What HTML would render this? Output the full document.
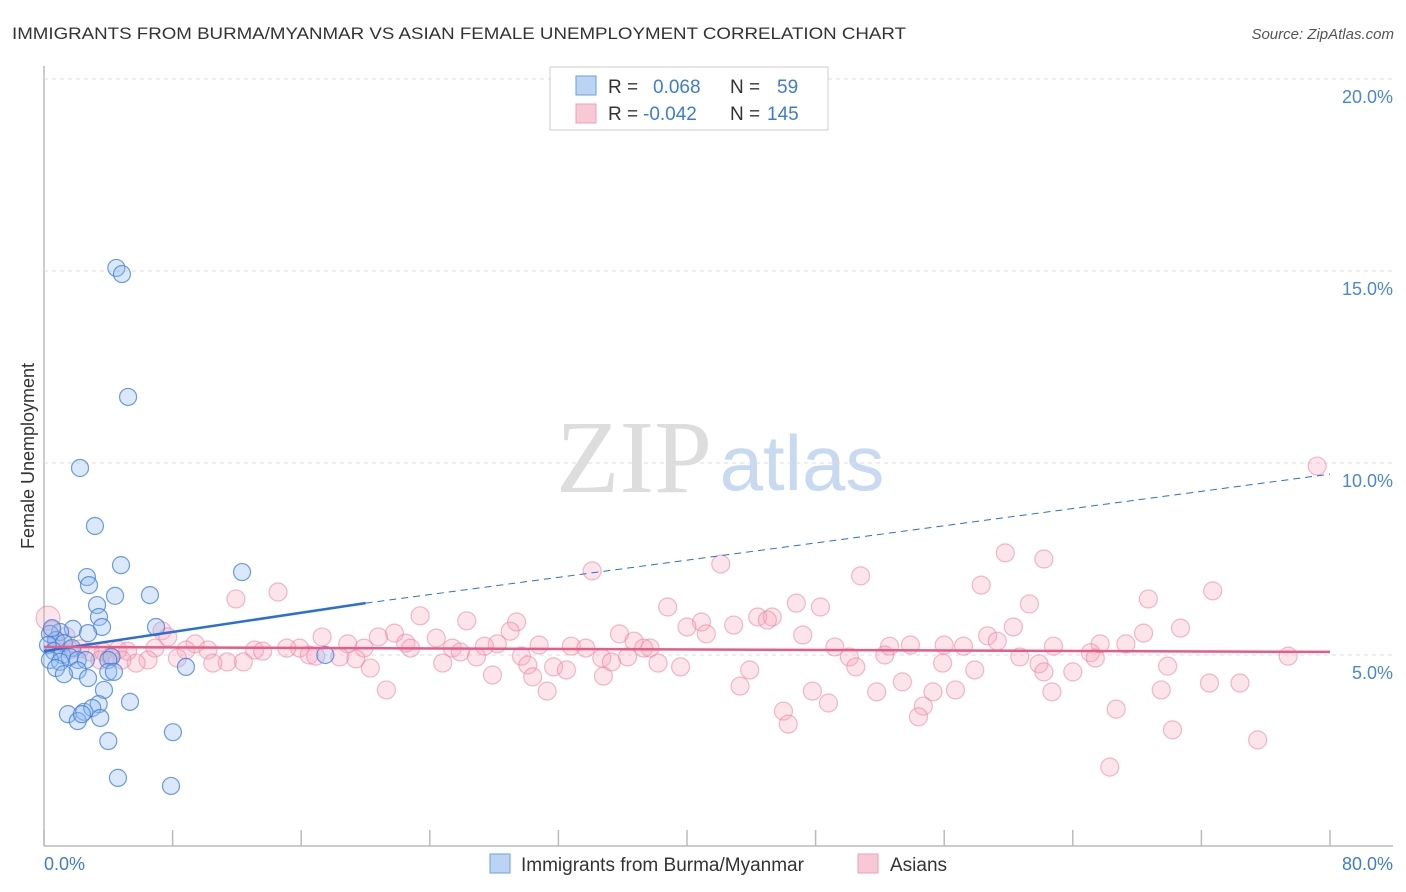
<!DOCTYPE html>
<html><head><meta charset="utf-8"><style>
body{margin:0;background:#fff;font-family:"Liberation Sans",sans-serif;}
#wrap{position:relative;width:1406px;height:892px;overflow:hidden;}
</style></head><body>
<div id="wrap">
<svg id="svg" width="1406" height="892" xmlns="http://www.w3.org/2000/svg">
<text x="12" y="39" font-size="17" fill="#333" textLength="894" lengthAdjust="spacingAndGlyphs">IMMIGRANTS FROM BURMA/MYANMAR VS ASIAN FEMALE UNEMPLOYMENT CORRELATION CHART</text>
<text x="1394" y="39" font-size="15" fill="#555" font-style="italic" text-anchor="end">Source: ZipAtlas.com</text>
<text x="634" y="492" font-size="104" fill="#ddd" font-family="Liberation Serif, serif" text-anchor="middle">ZIP</text>
<text x="802" y="490" font-size="78" fill="#c8daf2" text-anchor="middle">atlas</text>
<g id="grid"></g>
<g id="pts"></g>
<g id="trends"></g>
<text transform="translate(34,456) rotate(-90)" font-size="18" fill="#333" text-anchor="middle">Female Unemployment</text>
<text x="44" y="870" font-size="18" fill="#3d7bd9">0.0%</text>
<text x="1393" y="870" font-size="18" fill="#3d7bd9" text-anchor="end">80.0%</text>
<g>
<rect x="550" y="67" width="278" height="63" fill="#fff" stroke="#ccc"/>
<rect x="576" y="76" width="20" height="19" fill="#bcd4f4" stroke="#6a9ee6"/>
<rect x="576" y="104" width="20" height="19" fill="#f9c8d6" stroke="#f0a0b8"/>
<text x="608" y="93" font-size="19" fill="#333">R =</text>
<text x="653" y="93" font-size="19" fill="#3d7bd9">0.068</text>
<text x="730" y="93" font-size="19" fill="#333">N =</text>
<text x="777" y="93" font-size="19" fill="#3d7bd9">59</text>
<text x="608" y="120" font-size="19" fill="#333">R =</text>
<text x="643" y="120" font-size="19" fill="#3d7bd9">-0.042</text>
<text x="730" y="120" font-size="19" fill="#333">N =</text>
<text x="767" y="120" font-size="19" fill="#3d7bd9">145</text>
</g>
<g>
<rect x="490" y="854" width="20" height="19" fill="#bcd4f4" stroke="#6a9ee6"/>
<text x="521" y="871" font-size="19" fill="#333">Immigrants from Burma/Myanmar</text>
<rect x="858" y="854" width="20" height="19" fill="#f9c8d6" stroke="#f0a0b8"/>
<text x="890" y="871" font-size="19" fill="#333">Asians</text>
</g>
</svg>
</div>
<script>
const yTicks=[5,10,15,20];
const yTickLabels=["5.0%","10.0%","15.0%","20.0%"];
const xTicks=[0,8,16,24,32,40,48,56,64,72,80];
const blueX=[4.5,4.85,5.23,2.24,3.17,4.79,12.32,2.67,2.8,6.59,4.42,3.3,3.42,6.97,3.61,1.8,1.0,0.37,2.74,0.75,1.24,0.25,1.74,0.62,1.12,17.5,1.6,2.1,0.37,2.6,4.2,4.0,1.0,8.83,0.75,2.1,4.0,4.35,1.24,2.74,3.73,5.35,3.4,1.49,2.5,3.0,3.5,2.1,8.02,4.0,4.6,7.9,2.36,0.5];
const blueY=[15.08,14.92,11.72,9.87,8.36,7.34,7.16,7.03,6.82,6.56,6.54,6.3,5.99,5.73,5.73,5.68,5.6,5.55,5.57,5.39,5.31,5.26,5.18,5.1,5.0,5.0,4.95,4.87,4.87,4.87,4.95,4.87,4.82,4.69,4.66,4.6,4.56,4.56,4.5,4.4,4.09,3.78,3.72,3.46,3.52,3.62,3.36,3.28,2.99,2.76,1.8,1.59,3.46,5.7];
const pinkX=[79.2,59.8,62.2,42.1,34.1,50.8,58.3,14.56,72.7,11.94,68.7,46.8,61.3,38.8,48.3,23.4,44.4,45.3,45.0,26.3,40.9,29.4,42.9,60.3,70.7,40.0,29.0,7.34,21.8,35.8,68.4,47.2,41.2,58.7,17.3,20.8,7.7,24.4,59.3,36.7,9.4,22.5,18.9,28.2,65.7,53.9,56.0,57.2,67.3,62.8,52.6,49.2,27.4,30.8,32.8,37.7,37.3,33.7,25.4,25.9,22.8,19.9,15.9,15.1,13.1,13.6,10.2,8.83,6.9,5.2,4.6,2.24,2.86,3.7,1.6,0.75,0.25,0.5,1.37,16.5,16.9,18.4,19.4,26.9,29.7,34.7,36.3,38.2,39.6,52.3,50.1,65.1,65.4,60.7,77.4,55.9,61.9,30.1,24.8,20.3,12.4,11.4,10.5,8.3,6.47,5.73,4.85,4.1,3.48,69.9,50.5,31.7,32.5,43.9,57.9,62.2,64.0,35.3,27.9,34.8,30.4,53.4,72.5,43.3,21.3,31.3,47.8,51.8,55.3,56.7,62.7,69.5,74.4,48.8,54.7,66.7,46.0,54.4,46.3,70.2,75.5,66.3];
const pinkY=[9.92,7.66,7.5,7.37,7.19,7.06,6.82,6.64,6.67,6.46,6.46,6.35,6.33,6.25,6.25,6.02,5.99,5.99,5.91,5.89,5.86,5.86,5.78,5.73,5.7,5.73,5.62,5.63,5.57,5.55,5.57,5.52,5.55,5.5,5.47,5.47,5.47,5.44,5.36,5.36,5.29,5.31,5.29,5.29,5.29,5.26,5.26,5.23,5.29,5.23,5.23,5.21,5.23,5.26,5.23,5.18,5.18,5.18,5.18,5.08,5.18,5.18,5.18,5.18,5.13,5.1,5.13,5.13,5.18,5.1,5.13,5.16,5.08,5.08,5.13,5.29,5.96,5.65,5.49,5.0,4.97,4.95,4.9,4.95,4.97,4.92,4.95,4.79,4.69,5.0,4.95,5.06,4.92,4.95,4.97,4.79,4.77,4.74,4.79,4.66,4.82,4.82,4.79,4.92,4.87,4.79,4.87,4.95,4.87,4.71,4.69,4.69,4.61,4.61,4.61,4.56,4.56,4.82,4.48,4.45,4.43,4.3,4.27,4.19,4.09,4.06,4.06,4.04,4.04,4.09,4.04,4.09,4.27,3.75,3.67,3.59,3.54,3.39,3.2,3.05,2.79,2.08];
const blueTrend=[[0,5.1],[20,6.35],[80,9.71]];
const pinkTrend=[[0,5.21],[80,5.08]];
const NS="http://www.w3.org/2000/svg";
function sx(v){return 44+(v/80)*(1330-44);}
function sy(v){return 847-v*38.4;}
function mk(tag,attrs,parent){const e=document.createElementNS(NS,tag);for(const k in attrs)e.setAttribute(k,attrs[k]);parent.appendChild(e);return e;}
const grid=document.getElementById('grid');
const ax=mk('line',{x1:44,y1:66,x2:44,y2:846,stroke:'#bbb','stroke-width':1.5},grid);


const bx=mk('line',{x1:44,y1:846,x2:1393,y2:846,stroke:'#bbb','stroke-width':1.5},grid);


yTicks.forEach((t,i)=>{
 const g=mk('line',{x1:44,y1:sy(t),x2:1393,y2:sy(t),stroke:'#ddd','stroke-dasharray':'4,4'},grid);
 
 
 const l=mk('text',{x:1393,y:sy(t)+24,'font-size':18,fill:'#4a85dc','text-anchor':'end'},grid);
 l.textContent=yTickLabels[i];
 
 
});
xTicks.forEach(t=>{
 const k=mk('line',{x1:sx(t),y1:830,x2:sx(t),y2:846,stroke:'#bbb','stroke-width':1.5},grid);
 
 
});
const pts=document.getElementById('pts');
pinkX.forEach((x,i)=>{
 const c=mk('circle',{cx:sx(x),cy:sy(pinkY[i]),r:(i==76?12:9),fill:'rgba(245,165,190,0.3)',stroke:'rgba(235,130,160,0.55)','stroke-width':1.2},pts);
 
 
});
blueX.forEach((x,i)=>{
 const c=mk('circle',{cx:sx(x),cy:sy(blueY[i]),r:8.5,fill:'rgba(150,190,240,0.35)',stroke:'rgba(60,125,215,0.75)','stroke-width':1.2},pts);
 
 
});
const tr=document.getElementById('trends');
const b1=mk('line',{x1:sx(blueTrend[0][0]),y1:sy(blueTrend[0][1]),x2:sx(blueTrend[1][0]),y2:sy(blueTrend[1][1]),stroke:'#2a6fd6','stroke-width':2.5},tr);


const b2=mk('line',{x1:sx(blueTrend[1][0]),y1:sy(blueTrend[1][1]),x2:sx(blueTrend[2][0]),y2:sy(blueTrend[2][1]),stroke:'#2a6fd6','stroke-width':1,'stroke-dasharray':'7,5'},tr);


const p1=mk('line',{x1:sx(pinkTrend[0][0]),y1:sy(pinkTrend[0][1]),x2:sx(pinkTrend[1][0]),y2:sy(pinkTrend[1][1]),stroke:'#e85a88','stroke-width':2.5},tr);


</script>
</body></html>
